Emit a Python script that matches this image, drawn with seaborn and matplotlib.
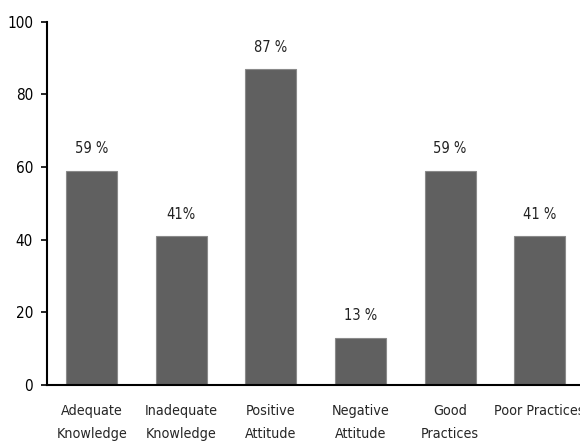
import matplotlib
matplotlib.use("Agg")
import matplotlib.pyplot as plt
import seaborn as sns
import pandas as pd

categories = ["Adequate\nKnowledge", "Inadequate\nKnowledge", "Positive\nAttitude",
              "Negative\nAttitude", "Good\nPractices", "Poor Practices"]
values = [59, 41, 87, 13, 59, 41]
bar_labels = ["59 %", "41%", "87 %", "13 %", "59 %", "41 %"]
yticks = [0, 20, 40, 60, 80, 100]

sns.set_theme(style="ticks")
plt.rcParams['font.family'] = ['DejaVu Sans']
plt.rcParams['font.stretch'] = 'condensed'

df = pd.DataFrame({"category": categories, "value": values})

fig = plt.figure(figsize=(5.8, 4.46), dpi=100)
ax = fig.add_axes([0.081, 0.137, 0.919, 0.814])
sns.barplot(data=df, x="category", y="value", color="#606060", width=0.57,
            edgecolor="#8a8a8a", linewidth=0.8, saturation=1, ax=ax)

for i, (v, lab) in enumerate(zip(values, bar_labels)):
    ax.text(i, v + 4, lab, ha="center", va="bottom", fontsize=10.5, color="#222222")

ax.set_xlim(-0.5, 5.45)
ax.set_ylim(0, 100)
ax.set_yticks(yticks)
ax.set_xlabel("")
ax.set_ylabel("")
ax.tick_params(axis="y", length=4, width=1.2, labelsize=11, colors="black", pad=6)
ax.tick_params(axis="x", length=0, labelsize=10.3, pad=14)
for lab in ax.get_xticklabels():
    lab.set_linespacing(1.75)
for s in ["top", "right"]:
    ax.spines[s].set_visible(False)
for s in ["left", "bottom"]:
    ax.spines[s].set_color("black")
    ax.spines[s].set_linewidth(1.5)

fig.savefig("out.png", dpi=100)
